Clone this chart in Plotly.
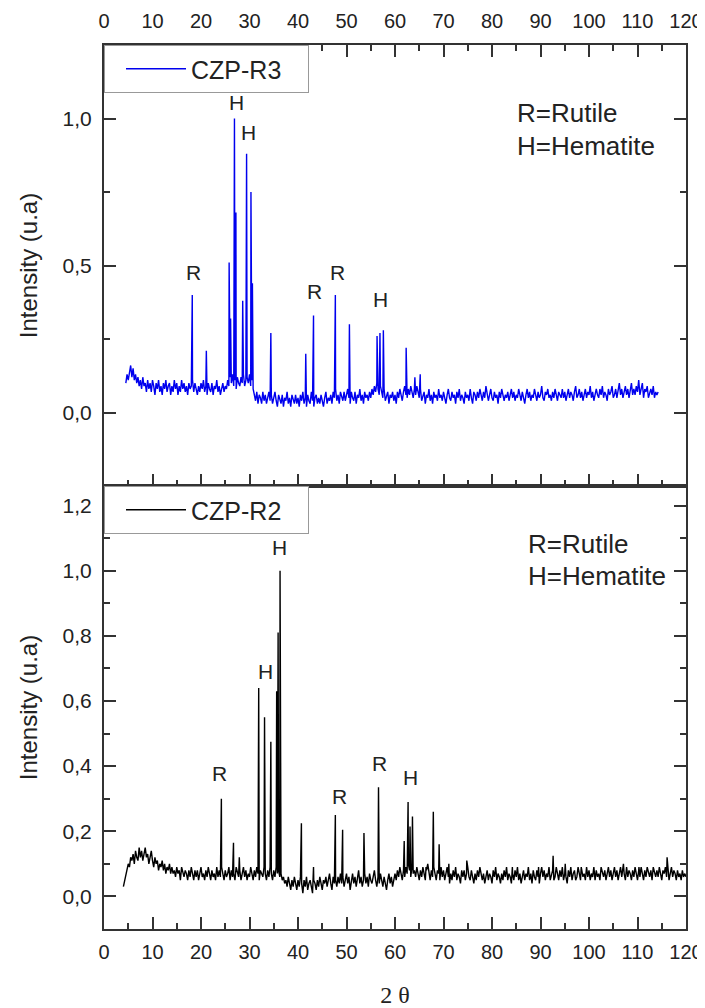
import plotly.graph_objects as go

# ---------------- data ----------------
# CZP-R3 (top panel): noisy baseline read every 0.25 deg from 4.5 deg
r3_start = 4.5
r3_step = 0.25
r3_base = [
    0.10, 0.13, 0.11, 0.14, 0.16, 0.12, 0.15, 0.11, 0.13, 0.10, 0.12, 0.09, 0.11, 0.08, 0.12, 0.09, 0.10, 0.07, 0.11, 0.08,
    0.10, 0.07, 0.11, 0.09, 0.06, 0.10, 0.08, 0.11, 0.07, 0.09, 0.06, 0.10, 0.08, 0.11, 0.07, 0.09, 0.10, 0.06, 0.09, 0.07,
    0.11, 0.08, 0.10, 0.06, 0.09, 0.07, 0.11, 0.08, 0.10, 0.07, 0.09, 0.06, 0.10, 0.08, 0.09, 0.11, 0.07, 0.10, 0.08, 0.06,
    0.09, 0.07, 0.10, 0.08, 0.11, 0.07, 0.09, 0.06, 0.10, 0.08, 0.07, 0.10, 0.06, 0.09, 0.08, 0.11, 0.07, 0.09, 0.06, 0.08,
    0.10, 0.07, 0.09, 0.08, 0.11, 0.09, 0.12, 0.10, 0.13, 0.09, 0.11, 0.08, 0.12, 0.10, 0.09, 0.12, 0.10, 0.13, 0.09, 0.11,
    0.12, 0.10, 0.13, 0.09, 0.11, 0.08, 0.06, 0.04, 0.07, 0.03, 0.06, 0.05, 0.03, 0.07, 0.04, 0.06, 0.03, 0.05, 0.07, 0.04,
    0.06, 0.03, 0.05, 0.07, 0.04, 0.02, 0.06, 0.04, 0.03, 0.06, 0.02, 0.05, 0.04, 0.07, 0.03, 0.05, 0.02, 0.06, 0.04, 0.03,
    0.06, 0.03, 0.05, 0.02, 0.06, 0.04, 0.07, 0.03, 0.05, 0.02, 0.06, 0.04, 0.03, 0.07, 0.04, 0.02, 0.05, 0.06, 0.03, 0.05,
    0.03, 0.06, 0.04, 0.02, 0.05, 0.07, 0.03, 0.05, 0.04, 0.06, 0.03, 0.07, 0.05, 0.08, 0.04, 0.06, 0.03, 0.07, 0.05, 0.04,
    0.07, 0.04, 0.06, 0.08, 0.05, 0.03, 0.07, 0.05, 0.04, 0.07, 0.03, 0.06, 0.05, 0.08, 0.04, 0.06, 0.03, 0.07, 0.05, 0.06,
    0.04, 0.07, 0.05, 0.08, 0.06, 0.09, 0.07, 0.10, 0.08, 0.06, 0.09, 0.07, 0.05, 0.08, 0.04, 0.06, 0.07, 0.03, 0.06, 0.05,
    0.07, 0.04, 0.06, 0.03, 0.07, 0.05, 0.08, 0.06, 0.04, 0.07, 0.09, 0.06, 0.05, 0.08, 0.06, 0.09, 0.07, 0.05, 0.08, 0.06,
    0.09, 0.07, 0.05, 0.08, 0.04, 0.06, 0.07, 0.03, 0.06, 0.05, 0.08, 0.04, 0.06, 0.03, 0.07, 0.05, 0.06, 0.04, 0.08, 0.05,
    0.06, 0.04, 0.07, 0.05, 0.03, 0.06, 0.08, 0.05, 0.04, 0.07, 0.05, 0.06, 0.03, 0.07, 0.05, 0.08, 0.04, 0.06, 0.05, 0.03,
    0.07, 0.05, 0.06, 0.04, 0.08, 0.05, 0.03, 0.07, 0.06, 0.04, 0.07, 0.05, 0.08, 0.06, 0.04, 0.07, 0.05, 0.09, 0.06, 0.04,
    0.06, 0.08, 0.05, 0.04, 0.07, 0.05, 0.06, 0.03, 0.07, 0.05, 0.08, 0.06, 0.04, 0.06, 0.05, 0.07, 0.04, 0.06, 0.08, 0.05,
    0.07, 0.04, 0.06, 0.05, 0.08, 0.06, 0.04, 0.07, 0.05, 0.03, 0.06, 0.08, 0.05, 0.07, 0.04, 0.06, 0.05, 0.08, 0.06, 0.04,
    0.07, 0.05, 0.06, 0.09, 0.05, 0.04, 0.07, 0.06, 0.08, 0.05, 0.06, 0.04, 0.07, 0.05, 0.08, 0.06, 0.04, 0.07, 0.06, 0.05,
    0.08, 0.05, 0.07, 0.04, 0.06, 0.08, 0.05, 0.07, 0.06, 0.04, 0.07, 0.09, 0.05, 0.06, 0.08, 0.05, 0.07, 0.04, 0.06, 0.08,
    0.05, 0.07, 0.06, 0.09, 0.05, 0.07, 0.04, 0.06, 0.08, 0.06, 0.05, 0.08, 0.06, 0.09, 0.05, 0.07, 0.06, 0.04, 0.08, 0.06,
    0.07, 0.09, 0.05, 0.06, 0.08, 0.05, 0.07, 0.10, 0.06, 0.08, 0.05, 0.07, 0.09, 0.06, 0.08, 0.05, 0.07, 0.10, 0.06, 0.08,
    0.06, 0.09, 0.07, 0.11, 0.06, 0.08, 0.10, 0.05, 0.08, 0.07, 0.09, 0.05, 0.07, 0.08, 0.06, 0.09, 0.05, 0.07, 0.06, 0.07,
]
r3_peak_theta = [18.2, 21.1, 25.8, 26.1, 26.9, 27.2, 28.6, 29.4, 30.3, 30.6,
                 34.4, 41.6, 43.2, 47.7, 50.6, 56.3, 56.9, 57.6, 62.3, 64.1, 65.2]
r3_peak_int = [0.40, 0.21, 0.51, 0.32, 1.00, 0.68, 0.38, 0.88, 0.75, 0.44,
               0.27, 0.20, 0.33, 0.40, 0.30, 0.26, 0.27, 0.28, 0.22, 0.12, 0.13]

# CZP-R2 (bottom panel): noisy baseline read every 0.25 deg from 4.0 deg
r2_start = 4.0
r2_step = 0.25
r2_base = [
    0.03, 0.05, 0.07, 0.08, 0.10, 0.09, 0.12, 0.11, 0.13, 0.10, 0.14, 0.12, 0.11, 0.15, 0.12, 0.14, 0.11, 0.13, 0.15, 0.12,
    0.13, 0.10, 0.12, 0.14, 0.11, 0.09, 0.12, 0.10, 0.11, 0.08, 0.10, 0.09, 0.11, 0.08, 0.10, 0.07, 0.09, 0.08, 0.10, 0.07,
    0.09, 0.07, 0.08, 0.06, 0.09, 0.07, 0.08, 0.05, 0.09, 0.07, 0.06, 0.08, 0.07, 0.05, 0.08, 0.06, 0.09, 0.07, 0.05, 0.08,
    0.06, 0.08, 0.05, 0.07, 0.09, 0.06, 0.07, 0.05, 0.08, 0.06, 0.09, 0.07, 0.05, 0.08, 0.06, 0.07, 0.05, 0.09, 0.06, 0.08,
    0.06, 0.09, 0.07, 0.05, 0.08, 0.06, 0.07, 0.09, 0.05, 0.08, 0.06, 0.07, 0.05, 0.09, 0.07, 0.06, 0.08, 0.05, 0.07, 0.09,
    0.06, 0.08, 0.05, 0.07, 0.06, 0.09, 0.07, 0.05, 0.08, 0.06, 0.09, 0.07, 0.05, 0.08, 0.07, 0.06, 0.09, 0.07, 0.05, 0.08,
    0.06, 0.09, 0.07, 0.05, 0.08, 0.06, 0.09, 0.07, 0.08, 0.06, 0.07, 0.05, 0.06, 0.04, 0.05, 0.03, 0.06, 0.04, 0.02, 0.05,
    0.03, 0.06, 0.04, 0.02, 0.05, 0.03, 0.06, 0.04, 0.01, 0.05, 0.03, 0.06, 0.02, 0.04, 0.05, 0.03, 0.01, 0.05, 0.04, 0.02,
    0.05, 0.03, 0.06, 0.04, 0.02, 0.05, 0.04, 0.06, 0.03, 0.05, 0.07, 0.04, 0.02, 0.06, 0.04, 0.05, 0.03, 0.06, 0.04, 0.07,
    0.04, 0.06, 0.03, 0.05, 0.07, 0.04, 0.06, 0.02, 0.05, 0.07, 0.04, 0.06, 0.03, 0.05, 0.08, 0.04, 0.06, 0.03, 0.05, 0.07,
    0.04, 0.06, 0.03, 0.07, 0.05, 0.04, 0.06, 0.08, 0.05, 0.03, 0.06, 0.04, 0.07, 0.05, 0.03, 0.06, 0.04, 0.02, 0.05, 0.07,
    0.04, 0.06, 0.03, 0.05, 0.07, 0.05, 0.08, 0.06, 0.09, 0.07, 0.05, 0.08, 0.06, 0.09, 0.07, 0.10, 0.08, 0.06, 0.09, 0.07,
    0.08, 0.06, 0.09, 0.07, 0.05, 0.08, 0.06, 0.09, 0.07, 0.05, 0.08, 0.10, 0.07, 0.05, 0.08, 0.06, 0.09, 0.07, 0.05, 0.08,
    0.07, 0.05, 0.09, 0.06, 0.08, 0.05, 0.07, 0.09, 0.06, 0.04, 0.07, 0.05, 0.08, 0.06, 0.09, 0.05, 0.07, 0.06, 0.04, 0.08,
    0.06, 0.08, 0.05, 0.07, 0.09, 0.06, 0.05, 0.08, 0.06, 0.04, 0.07, 0.05, 0.08, 0.06, 0.09, 0.07, 0.05, 0.07, 0.04, 0.06,
    0.08, 0.05, 0.07, 0.06, 0.04, 0.08, 0.06, 0.09, 0.05, 0.07, 0.06, 0.04, 0.07, 0.05, 0.08, 0.06, 0.09, 0.05, 0.07, 0.06,
    0.04, 0.07, 0.05, 0.08, 0.06, 0.09, 0.05, 0.07, 0.04, 0.06, 0.08, 0.05, 0.07, 0.06, 0.09, 0.05, 0.07, 0.04, 0.08, 0.06,
    0.05, 0.08, 0.06, 0.04, 0.07, 0.09, 0.06, 0.08, 0.05, 0.07, 0.06, 0.09, 0.05, 0.07, 0.08, 0.05, 0.06, 0.09, 0.07, 0.05,
    0.08, 0.06, 0.09, 0.05, 0.07, 0.06, 0.04, 0.08, 0.06, 0.09, 0.05, 0.07, 0.08, 0.05, 0.06, 0.09, 0.07, 0.05, 0.08, 0.06,
    0.07, 0.05, 0.09, 0.06, 0.08, 0.05, 0.07, 0.06, 0.09, 0.05, 0.08, 0.06, 0.07, 0.05, 0.09, 0.07, 0.06, 0.08, 0.05, 0.07,
    0.09, 0.06, 0.08, 0.05, 0.07, 0.09, 0.06, 0.08, 0.05, 0.07, 0.09, 0.06, 0.08, 0.07, 0.05, 0.09, 0.06, 0.08, 0.07, 0.05,
    0.08, 0.06, 0.09, 0.07, 0.05, 0.08, 0.06, 0.09, 0.07, 0.05, 0.08, 0.06, 0.09, 0.07, 0.06, 0.08, 0.05, 0.09, 0.07, 0.06,
    0.08, 0.06, 0.09, 0.07, 0.05, 0.08, 0.07, 0.09, 0.06, 0.08, 0.05, 0.07, 0.09, 0.06, 0.08, 0.07, 0.05, 0.08, 0.06, 0.07,
    0.05, 0.08, 0.06, 0.07, 0.06,
]
r2_peak_theta = [24.2, 26.7, 27.9, 31.9, 33.1, 34.4, 35.6, 35.9, 36.3, 40.7,
                 43.2, 47.7, 49.2, 53.6, 56.6, 61.9, 62.7, 63.1, 63.6, 66.4,
                 67.9, 69.1, 71.1, 74.8, 84.2, 89.6, 92.6, 95.1, 98.4, 103.9,
                 107.1, 110.3, 116.1]
r2_peak_int = [0.30, 0.165, 0.12, 0.64, 0.55, 0.475, 0.63, 0.81, 1.00, 0.225,
               0.09, 0.25, 0.205, 0.195, 0.335, 0.17, 0.29, 0.215, 0.245, 0.09,
               0.26, 0.16, 0.10, 0.11, 0.09, 0.09, 0.125, 0.10, 0.09, 0.09,
               0.10, 0.09, 0.12]

# peak labels
r3_label_text = ["R", "H", "H", "R", "R", "H"]
r3_label_theta = [18.5, 27.4, 29.8, 43.5, 48.2, 57.1]
r3_label_int = [0.476, 1.055, 0.953, 0.41, 0.477, 0.384]

r2_label_text = ["R", "H", "H", "R", "R", "H"]
r2_label_theta = [23.8, 33.2, 36.2, 48.5, 56.8, 63.2]
r2_label_int = [0.377, 0.69, 1.072, 0.307, 0.407, 0.366]

legend_lines = ["R=Rutile", "H=Hematite"]


def merge(start, step, base, ptheta, pint):
    pts = [(start + step * i, v) for i, v in enumerate(base)]
    pts += list(zip(ptheta, pint))
    pts.sort(key=lambda p: p[0])
    return [p[0] for p in pts], [p[1] for p in pts]


r3_x, r3_y = merge(r3_start, r3_step, r3_base, r3_peak_theta, r3_peak_int)
r2_x, r2_y = merge(r2_start, r2_step, r2_base, r2_peak_theta, r2_peak_int)

FONT = "Liberation Sans, Arial, sans-serif"
TXT = "#222222"
AX = "#333333"

fig = go.Figure()
fig.add_trace(go.Scatter(x=r3_x, y=r3_y, mode="lines", name="CZP-R3",
                         line=dict(color="#0000ee", width=1.4),
                         xaxis="x2", yaxis="y2", legend="legend"))
fig.add_trace(go.Scatter(x=r2_x, y=r2_y, mode="lines", name="CZP-R2",
                         line=dict(color="#000000", width=1.4),
                         xaxis="x", yaxis="y", legend="legend2"))

annotations = []
for t, x, y in zip(r3_label_text, r3_label_theta, r3_label_int):
    annotations.append(dict(x=x, y=y, xref="x2", yref="y2", text=t, showarrow=False,
                            font=dict(family=FONT, size=21, color=TXT)))
for t, x, y in zip(r2_label_text, r2_label_theta, r2_label_int):
    annotations.append(dict(x=x, y=y, xref="x", yref="y", text=t, showarrow=False,
                            font=dict(family=FONT, size=21, color=TXT)))
for i, line in enumerate(legend_lines):
    annotations.append(dict(x=84.7, y=[1.02, 0.908][i], xref="x2", yref="y2", text=line,
                            showarrow=False, xanchor="left",
                            font=dict(family=FONT, size=26, color=TXT)))
    annotations.append(dict(x=87.1, y=[1.083, 0.985][i], xref="x", yref="y", text=line,
                            showarrow=False, xanchor="left",
                            font=dict(family=FONT, size=26, color=TXT)))

split = 443 / 884

xcommon = dict(range=[0, 120], dtick=10, tick0=0, ticks="inside", ticklen=12,
               tickwidth=1.5, tickcolor=AX, showline=True, linewidth=2, linecolor=AX,
               showgrid=False, zeroline=False, automargin=False,
               minor=dict(dtick=5, ticks="inside", ticklen=6, tickwidth=1.5, tickcolor=AX),
               tickfont=dict(family=FONT, size=20, color=TXT))
ycommon = dict(ticks="inside", ticklen=12, tickwidth=1.5, tickcolor=AX, showline=True,
               linewidth=2, linecolor=AX, showgrid=False, zeroline=False,
               automargin=False, mirror="ticks", tickformat=".1f", ticklabelstandoff=6,
               tickfont=dict(family=FONT, size=21, color=TXT),
               title=dict(text="Intensity (u.a)", standoff=18,
                          font=dict(family=FONT, size=24, color=TXT)))

legend_common = dict(x=0, xanchor="left", yanchor="top", xref="paper", yref="paper",
                     bgcolor="white", bordercolor="#999999", borderwidth=1,
                     orientation="h", entrywidth=112, indentation=16,
                     font=dict(family=FONT, size=25, color=TXT), itemwidth=60)

# the page body adds an 8 px offset, so the figure is 8 px smaller than the window
fig.update_layout(
    width=697, height=1000,
    margin=dict(l=96, r=19, t=37, b=79),
    paper_bgcolor="white", plot_bgcolor="white",
    separators=",.",
    showlegend=True,
    xaxis=dict(**xcommon, anchor="y", side="bottom", mirror=True, ticklabelstandoff=4,
               title=dict(text="2 θ", standoff=24,
                          font=dict(family="Liberation Serif, Times New Roman, serif",
                                    size=24, color=TXT))),
    xaxis2=dict(**xcommon, anchor="y2", side="top", mirror="ticks", ticklabelstandoff=7),
    yaxis=dict(**ycommon, domain=[0, split], anchor="x", range=[-0.1, 1.26],
               dtick=0.2, tick0=0,
               minor=dict(dtick=0.1, ticks="inside", ticklen=6, tickwidth=1.5, tickcolor=AX)),
    yaxis2=dict(**ycommon, domain=[split, 1], anchor="x2", range=[-0.25, 1.25],
                dtick=0.5, tick0=0,
                minor=dict(dtick=0.25, ticks="inside", ticklen=6, tickwidth=1.5, tickcolor=AX)),
    legend=dict(**legend_common, y=1),
    legend2=dict(**legend_common, y=split),
    annotations=annotations,
)

fig.write_html("out.html")
